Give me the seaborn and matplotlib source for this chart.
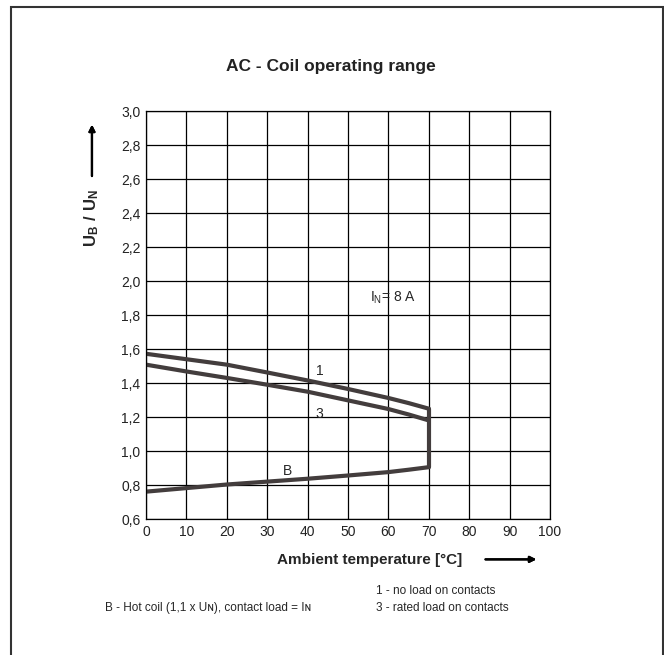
import numpy as np
import pandas as pd
import seaborn as sns
import matplotlib.pyplot as plt
from matplotlib.patches import Rectangle

# values
temp = [0, 10, 20, 30, 40, 50, 60, 65, 70]
curve_1 = [1.572, 1.54, 1.508, 1.462, 1.415, 1.365, 1.312, 1.282, 1.249]
curve_3 = [1.508, 1.468, 1.43, 1.39, 1.349, 1.298, 1.247, 1.215, 1.18]
curve_b = [0.761, 0.782, 0.803, 0.82, 0.837, 0.856, 0.876, 0.89, 0.905]

x_ticks = [0, 10, 20, 30, 40, 50, 60, 70, 80, 90, 100]
y_ticks = [0.6, 0.8, 1.0, 1.2, 1.4, 1.6, 1.8, 2.0, 2.2, 2.4, 2.6, 2.8, 3.0]
y_tick_labels = [f"{v:.1f}".replace(".", ",") for v in y_ticks]

sns.set_theme(style="white")
plt.rcParams['font.family'] = ['Liberation Sans', 'DejaVu Sans']
plt.rcParams['mathtext.fontset'] = 'custom'
plt.rcParams['mathtext.rm'] = 'Liberation Sans'
plt.rcParams['mathtext.bf'] = 'Liberation Sans:bold'

df = pd.DataFrame({'temp': temp, '1': curve_1, '3': curve_3, 'B': curve_b})
long = df.melt(id_vars='temp', var_name='curve', value_name='ratio')

line_col = '#433d3d'
fig = plt.figure(figsize=(6.64, 6.55), dpi=100)
ax = fig.add_axes([0.2199, 0.2076, 0.6084, 0.6229])

sns.lineplot(data=long, x='temp', y='ratio', units='curve', estimator=None,
             color=line_col, linewidth=3.0, ax=ax, legend=False)
# closing edge at 70 °C
edge = pd.DataFrame({'temp': [temp[-1], temp[-1]], 'ratio': [curve_b[-1], curve_1[-1]]})
sns.lineplot(data=edge, x='temp', y='ratio', estimator=None, color=line_col,
             linewidth=3.0, ax=ax, legend=False, sort=False)

ax.set_xlim(0, 100)
ax.set_ylim(0.6, 3.0)
ax.set_xticks(x_ticks)
ax.set_yticks(y_ticks)
ax.set_yticklabels(y_tick_labels)
ax.tick_params(length=0, labelsize=10, pad=4, colors='#222222')
ax.grid(True, color='black', linewidth=0.9)
for s in ax.spines.values():
    s.set_color('black')
    s.set_linewidth(0.9)
ax.set_xlabel('')
ax.set_ylabel('')

ax.text(43, 1.47, '1', fontsize=10, ha='center', va='center')
ax.text(43, 1.215, '3', fontsize=10, ha='center', va='center')
ax.text(35, 0.885, 'B', fontsize=10, ha='center', va='center')
ax.text(55.5, 1.9, '$\\mathregular{I_N}$= 8 A', fontsize=10, ha='left', va='center')

fig.text(0.4985, 0.899, 'AC - Coil operating range', fontsize=12.5,
         fontweight='bold', ha='center', va='center', color='#222222')
fig.text(0.1385, 0.667, '$\\mathbf{U_B\\ /\\ U_N}$', fontsize=12,
         rotation=90, ha='center', va='center')
fig.add_artist(plt.annotate('', xy=(0.1385, 0.814), xytext=(0.1385, 0.727),
                            xycoords='figure fraction',
                            arrowprops=dict(arrowstyle='-|>', color='black', lw=1.6,
                                            mutation_scale=9)))
fig.text(0.557, 0.145, 'Ambient temperature [°C]', fontsize=11,
         fontweight='bold', ha='center', va='center')
fig.add_artist(plt.annotate('', xy=(0.812, 0.146), xytext=(0.727, 0.146),
                            xycoords='figure fraction',
                            arrowprops=dict(arrowstyle='-|>', color='black', lw=1.6,
                                            mutation_scale=9)))

fig.text(0.158, 0.072, 'B - Hot coil (1,1 x Uɴ), contact load = Iɴ', fontsize=8.5,
         ha='left', va='center')
fig.text(0.567, 0.097, '1 - no load on contacts', fontsize=8.5, ha='left', va='center')
fig.text(0.567, 0.071, '3 - rated load on contacts', fontsize=8.5, ha='left', va='center')

fig.patches.append(Rectangle((11 / 664, -0.02), (652 / 664), 1.02 - 7 / 655,
                             transform=fig.transFigure, fill=False,
                             edgecolor='#333333', linewidth=1.5))

fig.savefig('out.png', dpi=100)
